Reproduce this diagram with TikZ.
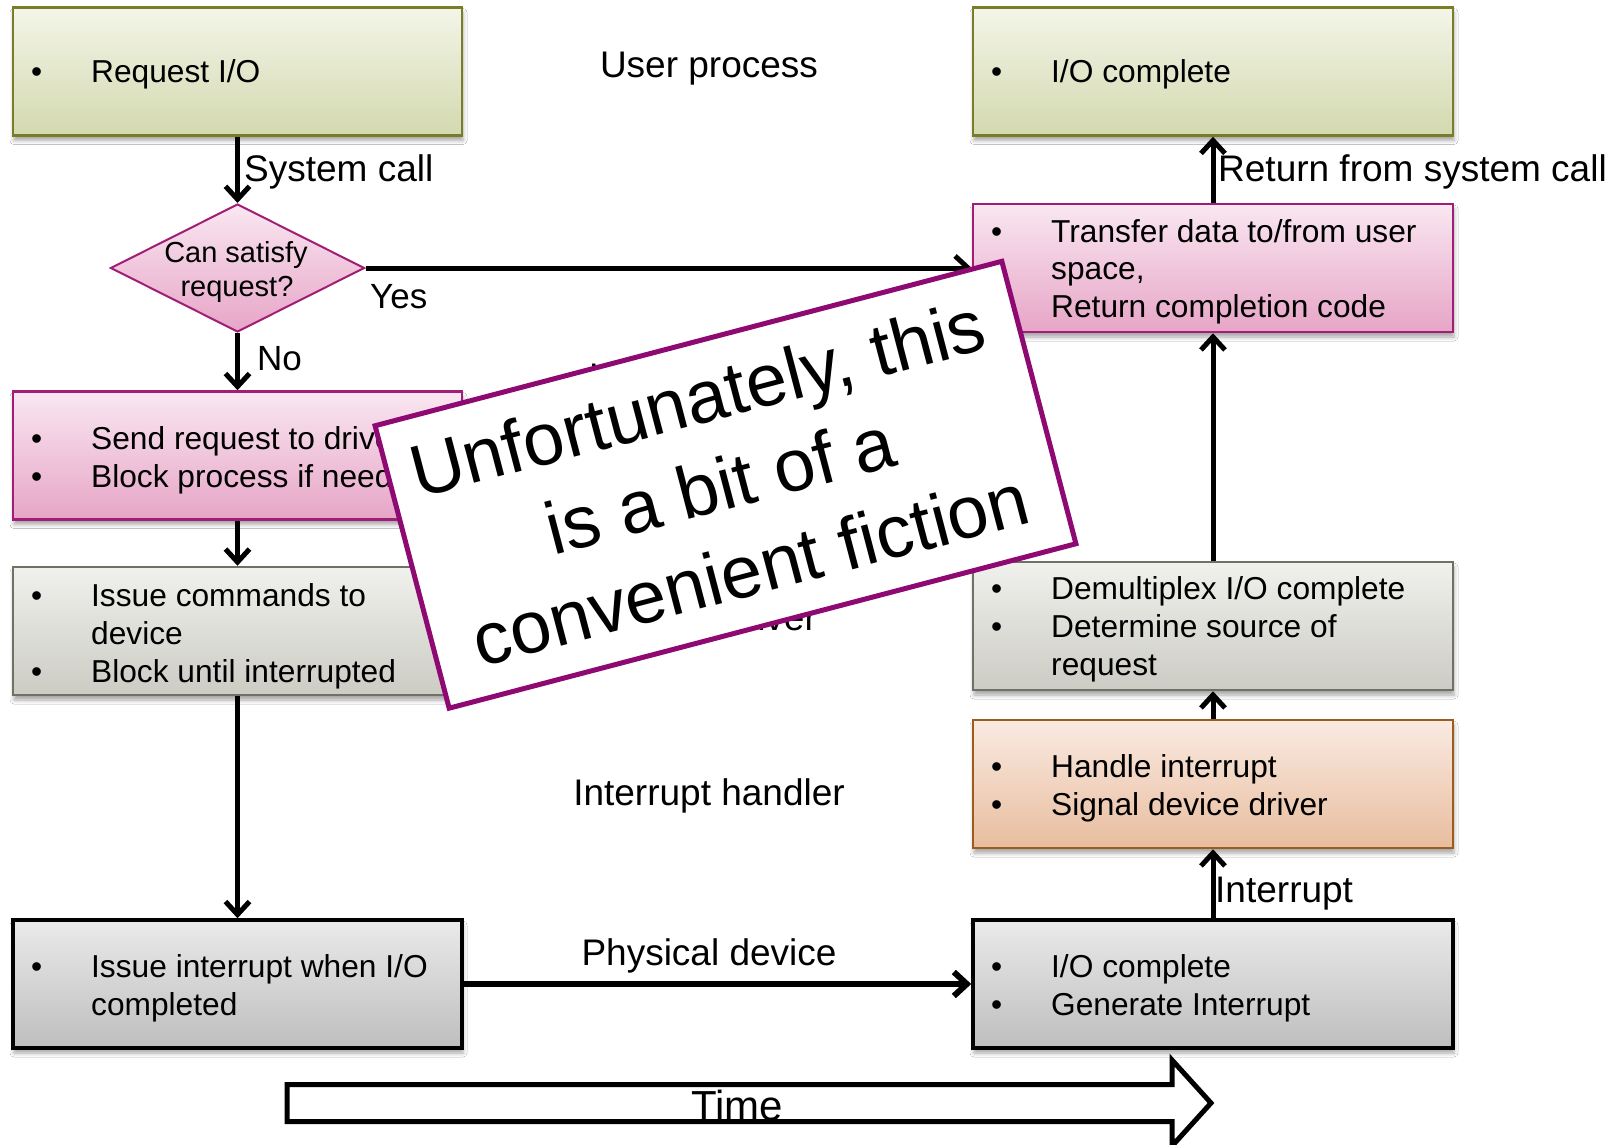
\documentclass[tikz,border=0pt]{standalone}
\usepackage{fontspec}
\setmainfont{Liberation Sans}
\usetikzlibrary{shapes.geometric, arrows.meta, shadows.blur}

\definecolor{olivebd}{RGB}{122,124,40}
\definecolor{greentop}{RGB}{244,245,233}
\definecolor{greenbot}{RGB}{211,217,175}
\definecolor{pinkbd}{RGB}{162,30,118}
\definecolor{pinktop}{RGB}{249,231,241}
\definecolor{pinkbot}{RGB}{231,165,199}
\definecolor{graybd}{RGB}{112,112,100}
\definecolor{graytop}{RGB}{240,240,237}
\definecolor{graybot}{RGB}{204,204,196}
\definecolor{dgraytop}{RGB}{234,234,234}
\definecolor{dgraybot}{RGB}{190,190,190}
\definecolor{orangebd}{RGB}{158,92,28}
\definecolor{orangetop}{RGB}{250,234,226}
\definecolor{orangebot}{RGB}{232,189,158}
\definecolor{fictionbd}{RGB}{142,10,114}

\newcommand{\bul}{\makebox[60pt][l]{\textbullet}}

\begin{document}
\begin{tikzpicture}[x=1pt,y=-1pt,
  box/.style={rectangle, inner sep=0, minimum height=128, line width=2.5pt,
     blur shadow={shadow xshift=1pt, shadow yshift=-5pt, shadow blur radius=4pt, shadow opacity=35}},
  lbox/.style={box, minimum width=449},
  rbox/.style={box, minimum width=480},
  greenbox/.style={draw=olivebd, top color=greentop, bottom color=greenbot},
  pinkbox/.style={draw=pinkbd, top color=pinktop, bottom color=pinkbot},
  graybox/.style={draw=graybd, top color=graytop, bottom color=graybot},
  devbox/.style={draw=black, line width=3.5pt, top color=dgraytop, bottom color=dgraybot},
  orangebox/.style={draw=orangebd, top color=orangetop, bottom color=orangebot},
  txt/.style={anchor=base west, inner sep=0, font=\fontsize{31.7}{38}\selectfont},
  lbl/.style={inner sep=0, font=\fontsize{37}{44}\selectfont},
  yn/.style={anchor=base west, inner sep=0, font=\fontsize{35}{42}\selectfont},
  arr/.style={line width=5pt, -{Straight Barb[length=13pt, width=24pt]}},
]
\fill[white] (0,0) rectangle (1623,1145);
\useasboundingbox (0,0) rectangle (1623,1145);

% boxes
\node[lbox, greenbox] (req) at (237.5,71.5) {};
\node[rbox, greenbox] (iocomp) at (1213,71.5) {};
\node[diamond, draw=pinkbd, line width=2pt, top color=pinktop, bottom color=pinkbot,
      minimum width=254, minimum height=128, inner sep=0] (dia) at (237.5,268) {};
\node[rbox, pinkbox] (xfer) at (1213,268) {};
\node[lbox, pinkbox] (send) at (237.5,455.5) {};
\node[lbox, graybox] (cmds) at (237.5,631) {};
\node[rbox, graybox] (demux) at (1213,626) {};
\node[rbox, orangebox] (handle) at (1213,784) {};
\node[lbox, devbox] (issue) at (237.5,984) {};
\node[rbox, devbox] (gen) at (1213,984) {};

% box texts
\node[txt] (req1) at (31,83) {\bul Request I/O};
\node[txt] (ioc1) at (991,83) {\bul I/O complete};
\node[inner sep=0, anchor=base, font=\fontsize{29}{35}\selectfont] (dia1) at (236,262) {Can satisfy};
\node[inner sep=0, anchor=base, font=\fontsize{29}{35}\selectfont] (dia2) at (237,296) {request?};
\node[txt] (xf1) at (991,242) {\bul Transfer data to/from user};
\node[txt] (xf2) at (1051,279.5) {space,};
\node[txt] (xf3) at (1051,317) {Return completion code};
\node[txt] (sd1) at (31,449) {\bul Send request to driver};
\node[txt] (sd2) at (31,487) {\bul Block process if needed};
\node[txt] (cm1) at (31,606) {\bul Issue commands to};
\node[txt] (cm2) at (91,644) {device};
\node[txt] (cm3) at (31,682) {\bul Block until interrupted};
\node[txt] (dm1) at (991,599) {\bul Demultiplex I/O complete};
\node[txt] (dm2) at (991,637) {\bul Determine source of};
\node[txt] (dm3) at (1051,675) {request};
\node[txt] (hd1) at (991,777) {\bul Handle interrupt};
\node[txt] (hd2) at (991,815) {\bul Signal device driver};
\node[txt] (is1) at (31,977) {\bul Issue interrupt when I/O};
\node[txt] (is2) at (91,1015) {completed};
\node[txt] (gn1) at (991,977) {\bul I/O complete};
\node[txt] (gn2) at (991,1015) {\bul Generate Interrupt};

% connectors
\draw[arr] (req.south) -- (dia.north);
\draw[arr] (dia.east) -- (xfer.west |- dia.east);
\draw[arr] (dia.south) -- (send.north);
\draw[arr] (send.south) -- (cmds.north);
\draw[arr] (cmds.south) -- (issue.north);
\draw[arr, line width=6pt] (issue.east) -- (gen.west);
\draw[arr] (gen.north) -- (handle.south);
\draw[arr] (handle.north) -- (demux.south);
\draw[arr] (demux.north) -- (xfer.south);
\draw[arr] (xfer.north) -- (iocomp.south);

% labels
\node[lbl, anchor=base] (user) at (709,78) {User process};
\node[lbl, anchor=base west] (syscall) at (244,182) {System call};
\node[lbl, anchor=base west] (ret) at (1218,182) {Return from system call};
\node[yn] (yes) at (370,308) {Yes};
\node[yn] (no) at (257,370) {No};
\node[lbl, anchor=base west] (kern) at (589,389) {Kernel I/O subsystem};
\node[lbl, anchor=base] (drv) at (709,630) {Device driver};
\node[lbl, anchor=base] (ih) at (709,805) {Interrupt handler};
\node[lbl, anchor=base] (phys) at (709,965) {Physical device};
\node[lbl, anchor=base west] (intr) at (1215,902) {Interrupt};

% time arrow
\draw[line width=5pt, fill=white, line join=miter]
  (287,1084.5) -- (1172,1084.5) -- (1172,1060) -- (1211,1103) -- (1172,1146)
  -- (1172,1121.5) -- (287,1121.5) -- cycle;
\node[inner sep=0, anchor=base, font=\fontsize{42}{50}\selectfont] (time) at (737,1120) {Time};

% overlay
\node[draw=fictionbd, line width=5pt, fill=white, rotate=14.7,
      minimum width=648, minimum height=292, inner sep=0] (fiction) at (725.5,484.75) {};
\node[rotate=14.7, align=center, inner sep=0,
      font=\fontsize{74}{89.5}\selectfont] (fictiontext) at (720,484.4)
  {Unfortunately, this\\is a bit of a\\\hspace*{16pt}convenient fiction};
\end{tikzpicture}
\end{document}
